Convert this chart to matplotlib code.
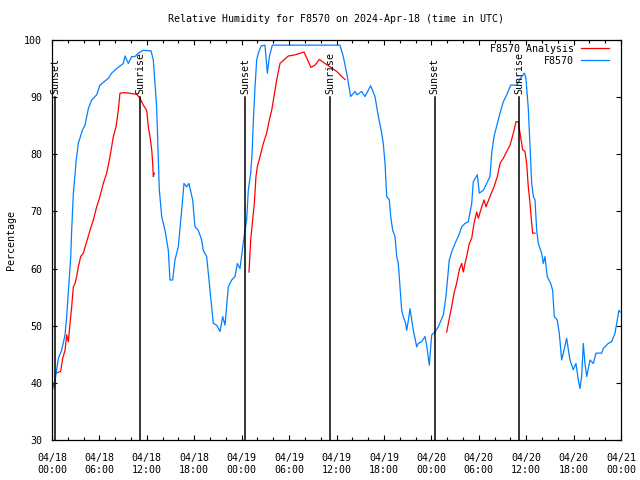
import matplotlib
matplotlib.use('Agg')
import matplotlib.pyplot as plt
from matplotlib.ticker import MultipleLocator

# hours since 04/18 00:00 UTC, relative humidity (%)
obs_h = [0.15, 0.29, 0.46, 0.8, 1.22, 1.65, 1.86, 2.15, 2.37, 2.49, 2.7, 2.91, 3.04, 3.33, 3.84,
         4.18, 4.6, 5.02, 5.65, 6.07, 7.13, 7.55, 8.18, 9.03, 9.24, 9.66, 10.08, 10.5, 10.92,
         11.55, 12.53, 12.82, 13.24, 13.58, 13.88, 14.3, 14.72, 14.93, 15.27, 15.56, 15.98,
         16.41, 16.7, 17.04, 17.33, 17.8, 18.09, 18.51, 18.94, 19.14, 19.57, 19.99, 20.41,
         20.84, 21.26, 21.6, 21.89, 22.31, 22.74, 23.16, 23.45, 23.79, 24.08, 24.42, 24.63,
         24.84, 25.14, 25.31, 25.48, 25.69, 25.9, 26.11, 26.45, 26.95, 27.25, 27.5, 27.88,
         36.44, 36.86, 37.29, 37.79, 38.34, 38.6, 39.18, 39.6, 40.32, 40.87, 41.3, 41.72,
         41.92, 42.14, 42.35, 42.68, 42.86, 43.11, 43.4, 43.62, 43.82, 44.03, 44.25, 44.45,
         44.75, 44.88, 45.1, 45.3, 45.52, 45.72, 46.15, 46.35, 46.78, 47.2, 47.41, 47.74,
         48.05, 48.46, 48.88, 49.52, 49.85, 50.27, 50.57, 50.99, 51.41, 51.84, 52.26, 52.68,
         53.11, 53.31, 53.82, 54.07, 54.58, 55.0, 55.42, 55.64, 55.93, 56.35, 56.69, 57.11,
         57.54, 58.04, 58.8, 59.43, 59.77, 59.97, 60.27, 60.49, 60.7, 60.91, 61.12, 61.33,
         61.54, 61.96, 62.17, 62.38, 62.67, 63.1, 63.35, 63.56, 63.93, 64.19, 64.49, 64.78,
         65.12, 65.54, 65.96, 66.3, 66.6, 66.81, 67.02, 67.23, 67.44, 67.66, 68.08, 68.5,
         68.84, 69.55, 69.76, 70.39, 70.82, 71.24, 71.45, 71.74, 71.87]
obs_rh = [40.0, 39.0, 41.1, 44.3, 45.7, 48.4, 51.6, 57.5, 62.1, 66.7, 73.2, 76.4, 78.7, 81.9, 84.2,
          85.1, 88.0, 89.5, 90.4, 92.1, 93.3, 94.2, 95.0, 95.9, 97.2, 95.9, 97.1, 97.1, 97.7,
          98.2, 98.1, 96.5, 88.3, 73.8, 69.1, 66.7, 63.2, 58.0, 58.0, 61.5, 63.8,
          70.2, 74.9, 74.3, 74.9, 72.0, 67.3, 66.7, 65.0, 63.2, 62.1, 56.3, 50.4,
          50.1, 49.0, 51.6, 50.1, 56.8, 58.0, 58.6, 60.9, 60.0, 63.2, 66.7, 68.5,
          73.7, 76.7, 79.9, 86.0, 91.8, 96.5, 97.7, 98.95, 99.1, 94.2, 97.1, 99.1,
          99.1, 97.1, 94.2, 90.1, 91.0, 90.4, 91.0, 90.1, 92.0, 90.1, 86.6, 83.7,
          81.9, 78.4, 72.6, 72.0, 69.1, 66.7, 65.6, 62.1, 60.9, 56.8, 52.7, 51.6,
          50.4, 49.2, 51.0, 53.0, 51.0, 49.2, 46.3, 46.9, 47.2, 48.1, 46.6, 43.1,
          48.4, 48.9, 49.8, 51.9, 55.1, 61.5, 62.9, 64.4, 65.6, 67.3, 67.9, 68.2,
          71.4, 75.2, 76.4, 73.2, 73.7, 74.9, 76.1, 80.2, 83.1, 85.4, 87.2, 89.2,
          90.4, 92.1, 92.1, 93.6, 94.2, 93.3, 88.0, 81.3, 74.9, 72.6, 72.0, 66.7,
          64.4, 62.7, 60.9, 62.1, 58.6, 57.4, 56.2, 51.6, 51.0, 48.7, 44.0, 45.7,
          47.8, 44.0, 42.3, 43.4, 40.5, 39.0, 41.1, 46.9, 43.4, 41.1, 44.0, 43.4,
          45.2, 45.2, 46.0, 46.9, 47.2, 48.7, 50.4, 52.7, 52.4]

# analysis comes in three separate night-time runs
ana1_h = [0.51, 1.1, 1.35, 1.65, 1.86, 2.07, 2.28, 2.49, 2.7, 2.91, 3.12, 3.33, 3.63, 3.96,
          4.39, 4.81, 5.23, 5.65, 6.07, 6.49, 6.92, 7.34, 7.76, 8.1, 8.39, 8.6, 9.24, 10.71,
          11.14, 11.55, 11.98, 12.19, 12.4, 12.62, 12.74, 12.82, 12.95]
ana1_rh = [41.7, 42.0, 44.3, 45.7, 48.4, 47.2, 50.4, 53.3, 56.8, 57.4, 58.6, 60.3, 62.1, 62.7,
           64.7, 66.7, 68.5, 70.8, 72.6, 74.9, 76.7, 79.6, 83.1, 84.8, 87.7, 90.7, 90.8, 90.5,
           89.8, 88.6, 87.7, 84.8, 83.1, 80.8, 78.4, 76.1, 76.7]
ana2_h = [24.93, 25.14, 25.39, 25.6, 25.81, 25.98, 26.32, 26.74, 27.16, 27.5, 27.8, 28.09,
          28.43, 28.85, 29.9, 30.75, 31.89, 32.77, 33.28, 33.82, 34.54, 35.18, 36.02, 36.66,
          37.07]
ana2_rh = [59.4, 65.0, 68.5, 71.4, 76.1, 77.8, 79.6, 81.9, 83.7, 86.0, 87.7, 90.1,
           93.0, 95.9, 97.2, 97.4, 97.9, 95.2, 95.6, 96.6, 95.9, 95.3, 94.5, 93.6,
           93.1]
ana3_h = [49.94, 50.15, 50.57, 50.87, 51.2, 51.54, 51.84, 52.05, 52.26, 52.47, 52.81, 53.11,
          53.4, 53.74, 53.95, 54.37, 54.67, 54.92, 55.42, 55.93, 56.35, 56.69, 57.11, 57.54,
          57.96, 58.38, 58.72, 59.01, 59.22, 59.56, 59.85, 60.06, 60.27, 60.49, 60.7, 60.82,
          61.12]
ana3_rh = [48.9, 50.4, 53.3, 55.7, 57.4, 59.8, 60.9, 59.4, 60.9, 62.1, 64.4, 65.3,
           67.9, 69.9, 68.8, 70.8, 72.0, 70.8, 72.6, 74.3, 76.1, 78.4, 79.3, 80.5,
           81.6, 83.7, 85.7, 85.7, 83.7, 80.8, 80.5, 78.4, 74.3, 71.4, 67.9, 66.2,
           66.2]

sun_h = [0.42, 11.14, 24.43, 35.17, 48.42, 59.15]
sun_lbl = ['Sunset', 'Sunrise', 'Sunset', 'Sunrise', 'Sunset', 'Sunrise']

xtick_h = list(range(0, 73, 6))
xtick_lbl = ['04/18\n00:00', '04/18\n06:00', '04/18\n12:00', '04/18\n18:00',
             '04/19\n00:00', '04/19\n06:00', '04/19\n12:00', '04/19\n18:00',
             '04/20\n00:00', '04/20\n06:00', '04/20\n12:00', '04/20\n18:00',
             '04/21\n00:00']

plt.rcParams['font.family'] = 'DejaVu Sans Mono'
fs = 7.2

fig = plt.figure(figsize=(6.4, 4.8), dpi=100)
ax = fig.add_axes([52/640, 40/480, 569/640, 400/480])

red = '#ff0000'
blue = '#0080ff'
lw = 0.9
ax.plot(ana1_h, ana1_rh, color=red, lw=lw, label='F8570 Analysis')
ax.plot(ana2_h, ana2_rh, color=red, lw=lw)
ax.plot(ana3_h, ana3_rh, color=red, lw=lw)
ax.plot(obs_h, obs_rh, color=blue, lw=lw, label='F8570')

for h, s in zip(sun_h, sun_lbl):
    ax.plot([h, h], [30, 90], color='black', lw=1.1)
    ax.text(h, 90.6, s, rotation=90, ha='center', va='bottom', fontsize=fs)

ax.set_xlim(0, 72)
ax.set_ylim(30, 100)
ax.set_xticks(xtick_h)
ax.set_xticklabels(xtick_lbl, fontsize=fs, linespacing=1.35)
ax.xaxis.set_minor_locator(MultipleLocator(2))
ax.set_yticks(range(30, 101, 10))
ax.tick_params(labelsize=fs, direction='in', top=True, right=True, length=3.8, width=0.8)
ax.tick_params(which='minor', direction='in', top=True, length=2.2, width=0.8)
ax.tick_params(axis='x', pad=9)
ax.tick_params(axis='y', pad=7)
for sp in ax.spines.values():
    sp.set_linewidth(0.9)

ax.legend(loc='upper right', bbox_to_anchor=((609 - 52) / 569, 0.99), frameon=False,
          markerfirst=False, fontsize=fs, handlelength=2.8, handletextpad=0.7,
          labelspacing=0.2, borderpad=0, borderaxespad=0)

fig.text(336/640, 1 - 19/480, 'Relative Humidity for F8570 on 2024-Apr-18 (time in UTC)',
         ha='center', va='center', fontsize=fs)
fig.text(11/640, 0.5, 'Percentage', rotation=90, ha='center', va='center', fontsize=fs)

fig.savefig('out.png', dpi=100)
